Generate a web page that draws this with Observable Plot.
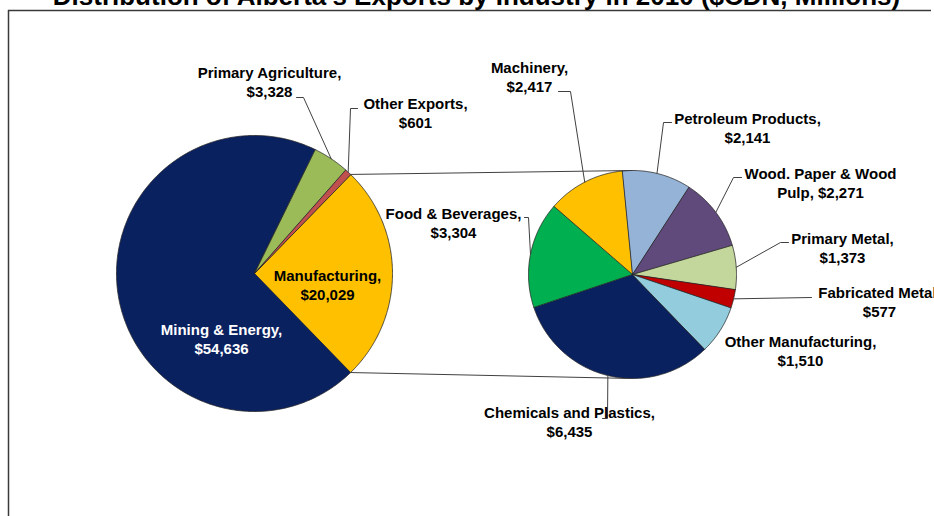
<!DOCTYPE html>
<html>
<head>
<meta charset="utf-8">
<script src="https://cdn.jsdelivr.net/npm/d3@7"></script>
<script src="https://cdn.jsdelivr.net/npm/@observablehq/plot@0.6"></script>
<style>
  html, body { margin: 0; padding: 0; background: #fff; overflow: hidden; }
  #chart { width: 934px; height: 516px; overflow: hidden; }
</style>
</head>
<body>
<div id="chart"></div>
<script>
// ---------- DATA ----------
const title = "Distribution of Alberta's Exports by Industry in 2010 ($CDN, Millions)";

// main pie (clockwise order, starting with the split-out slice)
const outerCategories = ["Manufacturing", "Mining & Energy", "Primary Agriculture", "Other Exports"];
const outerValues = [20029, 54636, 3328, 601];

// secondary pie: breakdown of Manufacturing (clockwise order)
const innerCategories = ["Chemicals and Plastics", "Food & Beverages", "Machinery", "Petroleum Products",
  "Wood. Paper & Wood Pulp", "Primary Metal", "Fabricated Metal", "Other Manufacturing"];
const innerValues = [6435, 3304, 2417, 2141, 2271, 1373, 577, 1510];

// ---------- STYLES / LAYOUT ----------
const outerColors = ["#ffc000", "#0a2160", "#9bbb59", "#c0504d"];
const innerColors = ["#0a2160", "#00b050", "#ffc000", "#95b3d7", "#604a7b", "#c3d69b", "#c00000", "#93cddd"];

const outerPie = {cx: 254, cy: 273, r: 138};
const innerPie = {cx: 632, cy: 274, r: 104};
const border = {left: 8, top: 10, right: 931};

const labelLayout = {
  "Primary Agriculture":    {x: 269, y: 81,  leader: [[303, 97], [296, 97]]},
  "Other Exports":          {x: 415, y: 112, leader: [[350, 108], [357, 108]]},
  "Manufacturing":          {x: 327, y: 284},
  "Mining & Energy":        {x: 221, y: 338, fill: "#ffffff"},
  "Food & Beverages":       {x: 453, y: 222, leader: [[528, 217], [524, 217]]},
  "Machinery":              {x: 529, y: 76,  leader: [[570, 91], [558, 91]]},
  "Petroleum Products":     {x: 747, y: 127, leader: [[663, 122], [671, 122]]},
  "Wood. Paper & Wood Pulp":{x: 820, y: 182, split: 18, leader: [[733, 177], [741, 177]]},
  "Primary Metal":          {x: 842, y: 247, leader: [[780, 242], [788, 242]]},
  "Fabricated Metal":       {x: 879, y: 301, leader: [[811, 297]]},
  "Other Manufacturing":    {x: 800, y: 350},
  "Chemicals and Plastics": {x: 569, y: 421, leader: [[607, 418], [602, 418]]}
};

// ---------- GEOMETRY FROM DATA ----------
const rad = a => a * Math.PI / 180;
const pt = (p, a, r = p.r) => [p.cx + r * Math.sin(rad(a)), p.cy - r * Math.cos(rad(a))];

const outerTotal = d3.sum(outerValues);
const innerTotal = d3.sum(innerValues);
const mfgSweep = 360 * outerValues[0] / outerTotal;
const outerStart = 90 - mfgSweep / 2;
const innerStart = 90 + mfgSweep / 2;

function slices(cats, vals, total, start, pie, colors) {
  let a = start;
  return cats.map((c, i) => {
    const a0 = a, a1 = a + 360 * vals[i] / total;
    a = a1;
    return {name: c, value: vals[i], a0, a1, mid: (a0 + a1) / 2, pie, color: colors[i]};
  });
}
const outerSlices = slices(outerCategories, outerValues, outerTotal, outerStart, outerPie, outerColors);
const innerSlices = slices(innerCategories, innerValues, innerTotal, innerStart, innerPie, innerColors);
const allSlices = [...outerSlices, ...innerSlices];

const wedgeRows = [];
allSlices.forEach((s, k) => {
  const p = s.pie;
  wedgeRows.push({id: k, x: p.cx, y: p.cy, color: s.color});
  const n = Math.max(2, Math.ceil((s.a1 - s.a0) / 0.5));
  for (let i = 0; i <= n; ++i) {
    const [x, y] = pt(p, s.a0 + (s.a1 - s.a0) * i / n);
    wedgeRows.push({id: k, x, y, color: s.color});
  }
});

// connector lines between the split slice and the secondary pie
const mfg = outerSlices[0];
const connRows = [];
[[mfg.a0, 0], [mfg.a1, 180]].forEach(([aOuter, aInner], k) => {
  const [x0, y0] = pt(outerPie, aOuter);
  const [x1, y1] = pt(innerPie, aInner);
  connRows.push({id: k, x: x0, y: y0}, {id: k, x: x1, y: y1});
});

// leader lines and labels
const fmt = d3.format(",");
const leaderRows = [];
const labelRows = allSlices.map((s, k) => {
  const L = labelLayout[s.name];
  if (L.leader) {
    const [x0, y0] = pt(s.pie, s.mid);
    leaderRows.push({id: k, x: x0, y: y0});
    L.leader.forEach(([x, y]) => leaderRows.push({id: k, x, y}));
  }
  const v = "$" + fmt(s.value);
  const text = L.split
    ? s.name.slice(0, L.split) + "\n" + s.name.slice(L.split + 1) + ", " + v
    : s.name + ",\n" + v;
  return {x: L.x, y: L.y, text, fill: L.fill || "#000000"};
});

const font = "'Liberation Sans', Arial, Helvetica, sans-serif";

const chart = Plot.plot({
  width: 934,
  height: 516,
  margin: 0,
  x: {domain: [0, 934], range: [0, 934], axis: null},
  y: {domain: [0, 516], range: [0, 516], axis: null},
  color: {type: "identity"},
  style: {fontFamily: font, background: "#ffffff", overflow: "hidden"},
  marks: [
    Plot.ruleY([border.top], {x1: border.left, x2: border.right, stroke: "#3a3a3a", strokeWidth: 1.5}),
    Plot.ruleX([border.left], {y1: border.top, y2: 516, stroke: "#3a3a3a", strokeWidth: 1.5}),
    Plot.line(wedgeRows, {x: "x", y: "y", z: "id", fill: "color", stroke: "#262626", strokeWidth: 0.8, curve: "linear-closed"}),
    Plot.line(connRows, {x: "x", y: "y", z: "id", stroke: "#404040", strokeWidth: 1}),
    Plot.line(leaderRows, {x: "x", y: "y", z: "id", stroke: "#404040", strokeWidth: 1}),
    Plot.text(labelRows, {x: "x", y: "y", text: "text", fill: "fill", fontSize: 15, fontWeight: "bold",
      lineHeight: 1.25, textAnchor: "middle", lineAnchor: "middle", fontFamily: font}),
    Plot.text([title], {text: d => d, frameAnchor: "top", dx: 9, dy: 4, lineAnchor: "bottom",
      fontSize: 26, fontWeight: "bold", fill: "#000000", fontFamily: font})
  ]
});
document.getElementById("chart").appendChild(chart);
</script>
</body>
</html>
